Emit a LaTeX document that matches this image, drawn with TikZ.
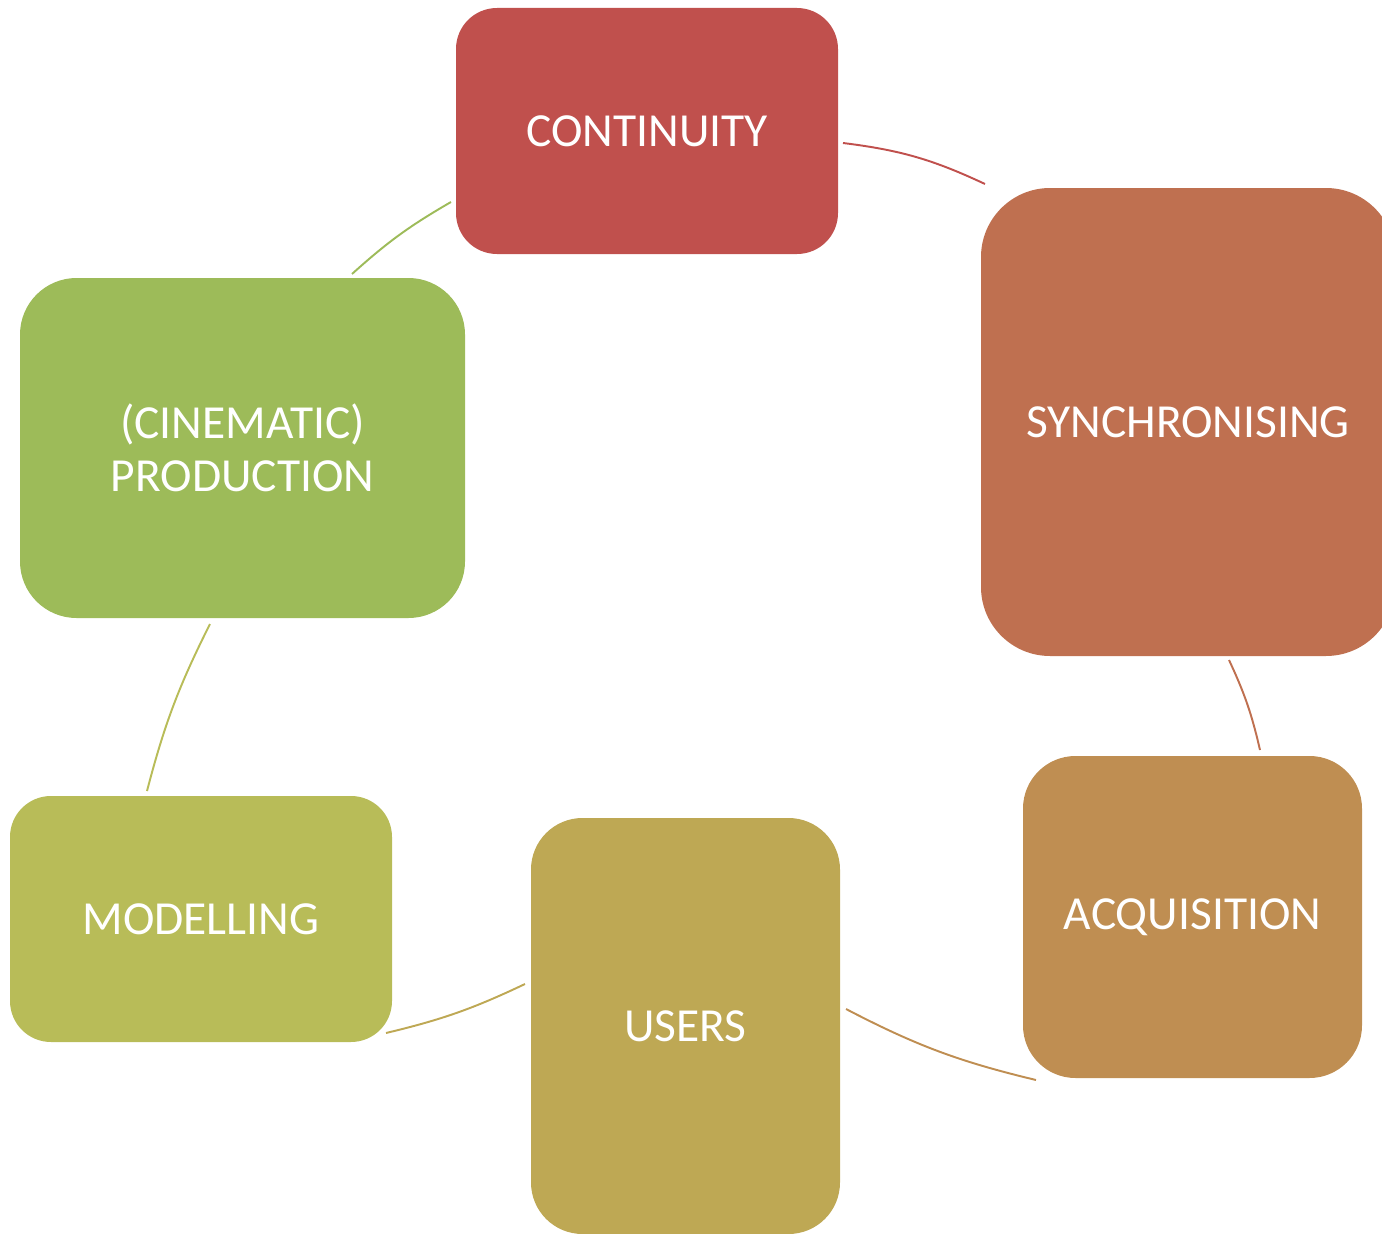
\documentclass[tikz,border=0pt]{standalone}
\usepackage{fontspec}
\setmainfont{Carlito}
\usepackage{tikz}
\usetikzlibrary{positioning}
\tikzset{
  cycnode/.style = {align=center, inner sep=0pt, rectangle, text=white, draw=none,
  text centered, font=\fontsize{27}{30}\selectfont},
  cyc_s/.style = {cycnode, rounded corners=0.82cm},
  cyc_m/.style = {cycnode, rounded corners=1.05cm},
  cyc_l/.style = {cycnode, rounded corners=1.13cm}
}
\definecolor{my_cont}{RGB}{192, 80, 77}
\definecolor{my_sync}{RGB}{191, 112, 80}
\definecolor{my_acqu}{RGB}{191, 142, 82}
\definecolor{my_user}{RGB}{190, 168, 84}
\definecolor{my_model}{RGB}{184, 188, 88}
\definecolor{my_prod}{RGB}{157, 187, 89}

\begin{document}
\begin{tikzpicture}[auto,
        cont/.style={fill=my_cont},
        sync/.style={fill=my_sync},
        acqu/.style={fill=my_acqu},
        user/.style={fill=my_user},
        model/.style={fill=my_model},
        prod/.style={fill=my_prod},
        link/.style={line width=1.1pt}]
        \useasboundingbox (0,0) rectangle (27.64,-24.68);
        % boxes
        \node [cyc_s, cont, minimum width=7.64cm, minimum height=4.92cm] (continuity) at (12.94,-2.62) {CONTINUITY};
        \node [cycnode, rounded corners=1.38cm, sync, minimum width=8.28cm, minimum height=9.36cm] (synch) at (23.76,-8.44) {SYNCHRONISING};
        \node [cyc_m, acqu, minimum width=6.78cm, minimum height=6.44cm] (acquisition) at (23.85,-18.34) {ACQUISITION};
        \node [cyc_m, user, rounded corners=1.03cm, minimum width=6.18cm, minimum height=8.32cm] (users) at (13.71,-20.52) {USERS};
        \node [cyc_s, model, minimum width=7.64cm, minimum height=4.92cm] (modelling) at (4.02,-18.38) {MODELLING};
        \node [cyc_l, prod, minimum width=8.90cm, minimum height=6.80cm] (production) at (4.85,-8.96) {(CINEMATIC)\\PRODUCTION};
        % arc ends
        \coordinate (l1a) at (16.86,-2.86);
        \coordinate (l1b) at (19.70,-3.68);
        \coordinate (l2a) at (24.58,-13.20);
        \coordinate (l2b) at (25.20,-15.00);
        \coordinate (l3a) at (20.72,-21.60);
        \coordinate (l3b) at (16.92,-20.18);
        \coordinate (l4a) at (10.50,-19.68);
        \coordinate (l4b) at (7.72,-20.66);
        \coordinate (l5a) at (2.94,-15.82);
        \coordinate (l5b) at (4.20,-12.48);
        \coordinate (l6a) at (7.04,-5.48);
        \coordinate (l6b) at (9.02,-4.04);
        \draw [link, my_cont] (l1a) to[bend left=9] (l1b);
        \draw [link, my_sync] (l2a) to[bend left=6] (l2b);
        \draw [link, my_acqu] (l3a) to[bend left=7] (l3b);
        \draw [link, my_user] (l4a) to[bend left=6] (l4b);
        \draw [link, my_model] (l5a) to[bend left=6] (l5b);
        \draw [link, my_prod] (l6a) to[bend left=6] (l6b);
\end{tikzpicture}
\end{document}
